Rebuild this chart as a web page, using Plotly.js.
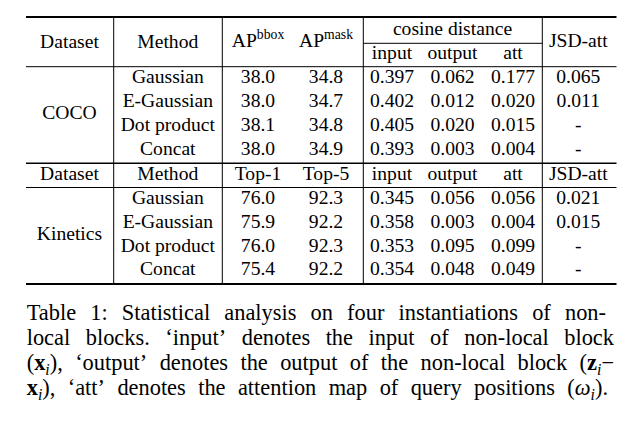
<!DOCTYPE html>
<html><head><meta charset="utf-8">
<script src="https://cdn.plot.ly/plotly-3.0.1.min.js"></script>
<style>html,body{margin:0;padding:0;background:#fff}</style>
</head><body><div id="chart" style="width:632px;height:428px"></div>
<script>
// ---------- data ----------
const headerTop = ["Dataset","Method","AP<sup>bbox</sup>","AP<sup>mask</sup>"];
const cosineHeader = "cosine distance";
const jsdHeader = "JSD-att";
const subHeaders = ["input","output","att"];
const headerKinetics = ["Dataset","Method","Top-1","Top-5","input","output","att","JSD-att"];
const datasets = ["COCO","Kinetics"];
const methods = ["Gaussian","E-Gaussian","Dot product","Concat"];
const cocoAPbbox = [38.0,38.0,38.1,38.0];
const cocoAPmask = [34.8,34.7,34.8,34.9];
const cocoInput  = [0.397,0.402,0.405,0.393];
const cocoOutput = [0.062,0.012,0.020,0.003];
const cocoAtt    = [0.177,0.020,0.015,0.004];
const cocoJSD    = [0.065,0.011,null,null];
const kinTop1    = [76.0,75.9,76.0,75.4];
const kinTop5    = [92.3,92.2,92.3,92.2];
const kinInput   = [0.345,0.358,0.353,0.354];
const kinOutput  = [0.056,0.003,0.095,0.048];
const kinAtt     = [0.056,0.004,0.099,0.049];
const kinJSD     = [0.021,0.015,null,null];
const captionLines = [
  ["Table","1:","Statistical","analysis","on","four","instantiations","of","non-"],
  ["local","blocks.","‘input’","denotes","the","input","of","non-local","block"],
  ["(<b>x</b><sub><i>i</i></sub>),","‘output’","denotes","the","output","of","the","non-local","block","(<b>z</b><sub><i>i</i></sub>−"],
  ["<b>x</b><sub><i>i</i></sub>),","‘att’","denotes","the","attention","map","of","query","positions","(<i>ω</i><sub><i>i</i></sub>)."]
];

// ---------- layout constants ----------
const FONT = 'Liberation Serif';
const TS = 19.6, CS = 22.4;
const colX = [69.5,167.8,258,326,392,452.5,513,578.3];
const cocoRowY = methods.map((m,i)=>78+i*23.9);
const kinRowY = methods.map((m,i)=>199.3+i*23.7);
const capLeft = 26.7, capRight = [606,614,614,608], capY = [314,339,364.5,389.5];

const f1 = v => v.toFixed(1);
const f3 = v => v===null ? "-" : v.toFixed(3);

const traces = [];
function addText(xs, ys, texts, size){
  traces.push({type:'scatter', mode:'text', x:xs, y:ys, text:texts,
    textposition:'middle center', cliponaxis:false, hoverinfo:'skip',
    textfont:{family:FONT, size:size, color:'#000'}});
}
// header
addText(colX.slice(0,4), [43.5,43.5,42.2,42.2], headerTop, TS);
addText([452.5], [30.3], [cosineHeader], TS);
addText(colX.slice(4,7), [54.3,54.3,54.3], subHeaders, TS);
addText([colX[7]], [42.6], [jsdHeader], TS);
// COCO body
addText([colX[0]], [114.3], [datasets[0]], TS);
const cocoCols = [methods, cocoAPbbox.map(f1), cocoAPmask.map(f1), cocoInput.map(f3), cocoOutput.map(f3), cocoAtt.map(f3), cocoJSD.map(f3)];
cocoCols.forEach((col,c)=>addText(col.map(()=>colX[c+1]), cocoRowY, col, TS));
// Kinetics
addText(colX, colX.map(()=>175), headerKinetics, TS);
addText([colX[0]], [234.8], [datasets[1]], TS);
const kinCols = [methods, kinTop1.map(f1), kinTop5.map(f1), kinInput.map(f3), kinOutput.map(f3), kinAtt.map(f3), kinJSD.map(f3)];
kinCols.forEach((col,c)=>addText(col.map(()=>colX[c+1]), kinRowY, col, TS));

// caption, justified word by word
const ctx = document.createElement('canvas').getContext('2d');
function measure(html, size){
  let w=0, b=false, it=false, sub=false;
  html.split(/(<\/?b>|<\/?i>|<\/?sub>)/).forEach(t=>{
    if(t==='<b>')b=true; else if(t==='</b>')b=false;
    else if(t==='<i>')it=true; else if(t==='</i>')it=false;
    else if(t==='<sub>')sub=true; else if(t==='</sub>')sub=false;
    else if(t){ ctx.font=(it?'italic ':'')+(b?'bold ':'')+(sub?size*0.7:size)+'px "Liberation Serif"'; w+=ctx.measureText(t).width; }
  });
  return w;
}
const cx=[], cy=[], ct=[];
captionLines.forEach((words,li)=>{
  const ws = words.map(w=>measure(w,CS));
  const tot = ws.reduce((a,b)=>a+b,0);
  const gap = (capRight[li]-capLeft-tot)/(words.length-1);
  let x = capLeft;
  words.forEach((w,i)=>{cx.push(x+ws[i]/2); cy.push(capY[li]); ct.push(w); x += ws[i]+gap;});
});
addText(cx, cy, ct, CS);

// rules
const L=26, R=616.5, vTop=17, vBot=284;
function hl(y,x0,x1,w){return {type:'line',xref:'x',yref:'y',x0:x0,x1:x1,y0:y,y1:y,line:{color:'#000',width:w}};}
function vl(x){return {type:'line',xref:'x',yref:'y',x0:x,x1:x,y0:vTop,y1:vBot,line:{color:'#000',width:1}};}
const shapes = [hl(17,L,R,2), hl(43.3,363.3,542.3,1), hl(66.7,L,R,1), hl(163.3,L,R,1.4), hl(187.5,L,R,1), hl(284,L,R,2),
  vl(113.7), vl(222.3), vl(363.3), vl(542.3)];

Plotly.newPlot('chart', traces, {
  width:632, height:428, margin:{l:0,r:0,t:0,b:0},
  paper_bgcolor:'#fff', plot_bgcolor:'#fff', showlegend:false,
  xaxis:{range:[0,632], visible:false, fixedrange:true},
  yaxis:{range:[428,0], visible:false, fixedrange:true},
  shapes:shapes
}, {staticPlot:true, displayModeBar:false});
</script></body></html>
